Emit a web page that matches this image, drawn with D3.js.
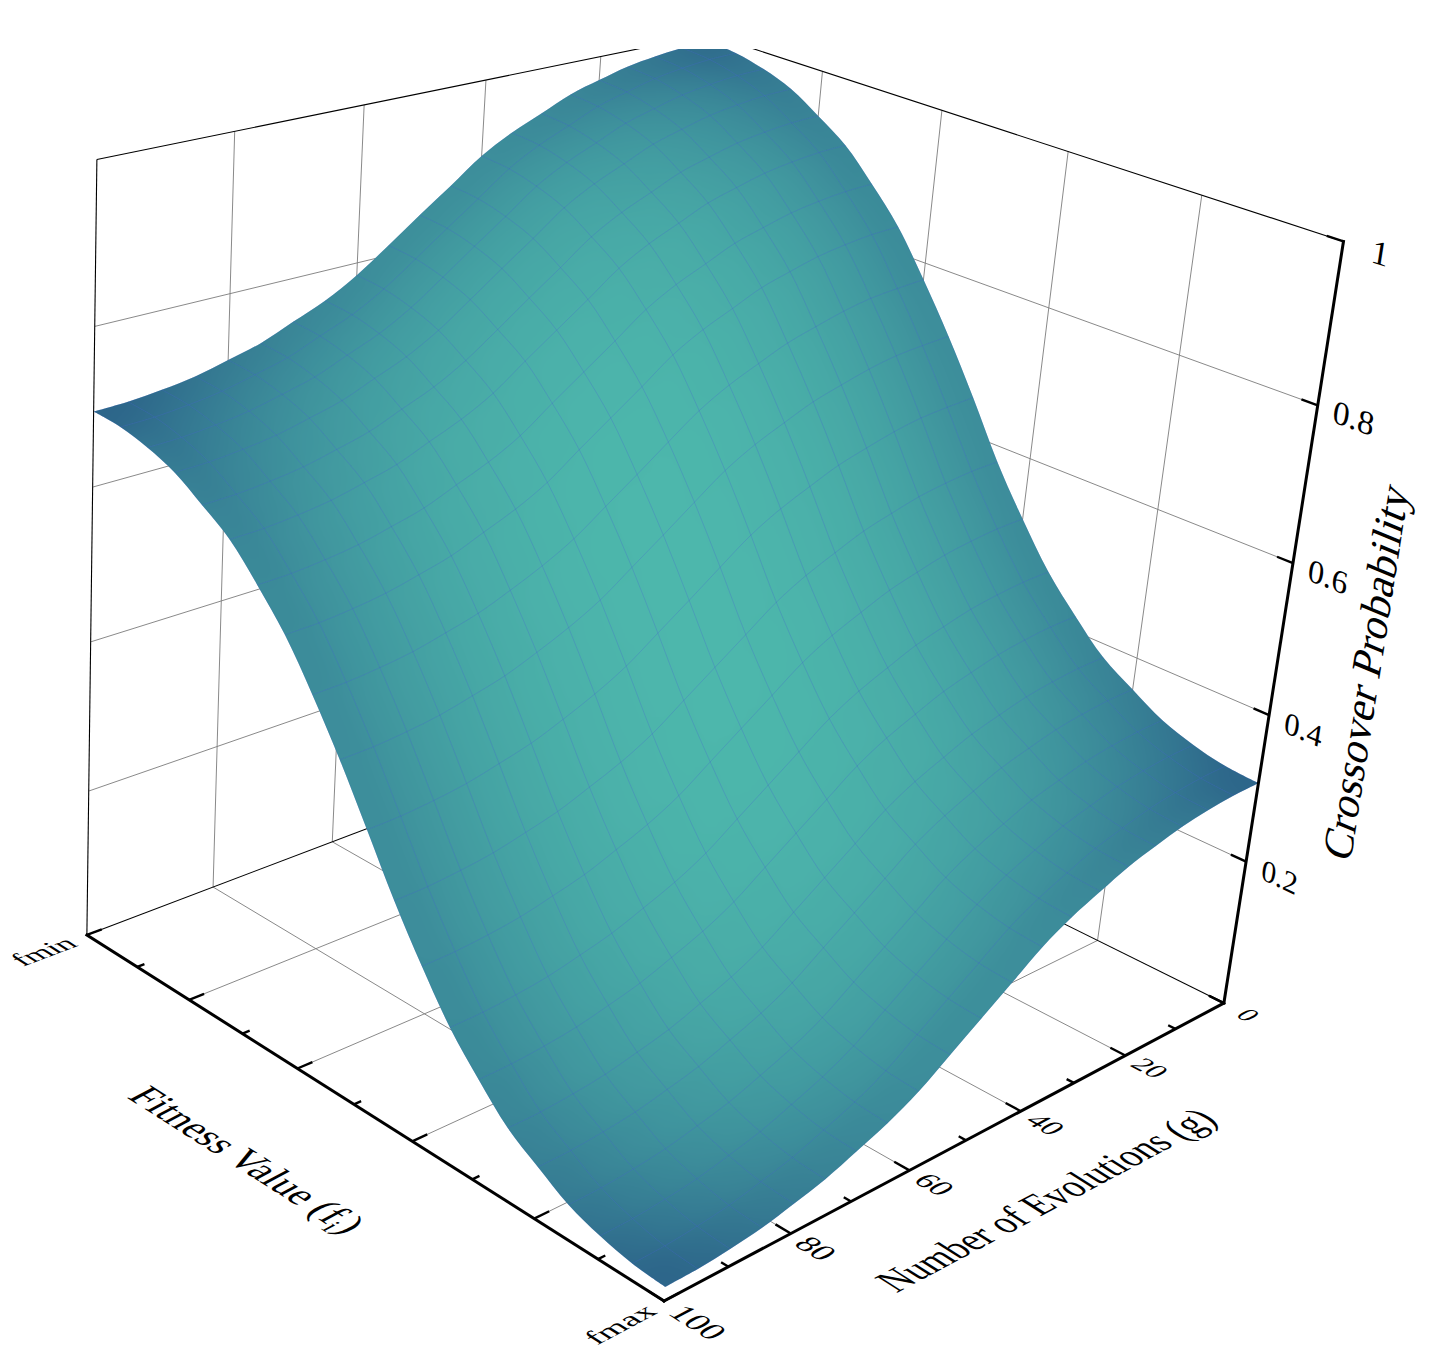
<!DOCTYPE html>
<html>
<head>
<meta charset="utf-8">
<title>Crossover Probability</title>
<script src="https://cdn.jsdelivr.net/npm/d3@7/dist/d3.min.js"></script>
<style>
  body { margin: 0; background: #fff; }
  svg { display: block; }
  text { font-family: "Liberation Serif", serif; fill: #000; }
</style>
</head>
<body>
<svg id="chart" width="1433" height="1371"></svg>
<script>
'use strict';

// grid of the surface, 21 x 21
const evolutions = d3.range(0, 101, 5);
const fitness = d3.range(0, 1.001, 0.05);

// tick values
const gMajor = [0, 20, 40, 60, 80, 100];
const gMinor = [10, 30, 50, 70, 90];
const fMajor = [0, 0.2, 0.4, 0.6, 0.8, 1];
const fMinor = [0.1, 0.3, 0.5, 0.7, 0.9];
const zMajor = [0, 0.2, 0.4, 0.6, 0.8, 1];
const zLabels = [0.2, 0.4, 0.6, 0.8, 1];
const fLabels = [[0, 'fmin'], [1, 'fmax']];

// crossover probability, one row per fitness value (fmin first), columns g = 0..100
const crossover = [
  [.990,.989,.985,.979,.969,.958,.941,.924,.902,.872,.843,.813,.784,.761,.744,.727,.716,.706,.700,.696,.695],
  [.987,.986,.982,.976,.966,.955,.938,.921,.899,.869,.840,.810,.781,.758,.741,.724,.713,.703,.697,.693,.692],
  [.978,.977,.973,.967,.957,.946,.929,.912,.890,.860,.831,.801,.772,.749,.732,.715,.704,.694,.688,.684,.683],
  [.964,.963,.959,.953,.943,.932,.915,.898,.876,.846,.817,.787,.758,.735,.718,.701,.690,.680,.674,.670,.669],
  [.941,.940,.936,.930,.920,.909,.892,.875,.853,.823,.794,.764,.735,.712,.695,.678,.667,.657,.651,.647,.646],
  [.915,.914,.910,.904,.894,.883,.866,.849,.827,.797,.768,.739,.709,.687,.670,.653,.642,.632,.626,.622,.621],
  [.877,.876,.872,.866,.856,.845,.828,.811,.789,.759,.730,.701,.671,.649,.632,.615,.604,.594,.588,.584,.583],
  [.834,.833,.829,.823,.813,.802,.785,.768,.746,.716,.687,.658,.628,.606,.589,.572,.561,.551,.545,.541,.540],
  [.778,.776,.773,.766,.756,.745,.729,.712,.690,.661,.631,.602,.573,.551,.533,.517,.506,.496,.490,.486,.485],
  [.717,.715,.712,.705,.695,.684,.668,.651,.629,.600,.570,.541,.512,.490,.472,.456,.445,.435,.429,.425,.424],
  [.650,.648,.645,.638,.628,.617,.601,.584,.562,.533,.503,.474,.445,.423,.405,.389,.378,.368,.362,.358,.357],
  [.579,.578,.574,.568,.558,.547,.531,.514,.492,.463,.434,.405,.376,.354,.337,.321,.310,.300,.294,.290,.289],
  [.518,.517,.513,.507,.497,.486,.470,.453,.431,.402,.373,.344,.315,.293,.276,.260,.249,.239,.233,.229,.228],
  [.463,.462,.458,.452,.442,.431,.415,.398,.376,.347,.318,.289,.260,.238,.221,.205,.194,.184,.178,.174,.173],
  [.420,.419,.415,.409,.399,.388,.372,.355,.333,.304,.275,.246,.217,.195,.178,.162,.151,.141,.135,.131,.130],
  [.382,.381,.377,.371,.361,.350,.334,.317,.295,.266,.237,.208,.179,.157,.140,.124,.113,.103,.097,.093,.092],
  [.357,.356,.352,.346,.336,.325,.309,.292,.270,.241,.212,.183,.154,.132,.115,.099,.088,.078,.072,.068,.067],
  [.334,.333,.329,.323,.313,.302,.286,.269,.247,.218,.189,.160,.131,.109,.092,.076,.065,.055,.049,.045,.044],
  [.320,.319,.315,.309,.299,.288,.272,.255,.233,.204,.175,.146,.117,.095,.078,.062,.051,.041,.035,.031,.030],
  [.311,.310,.306,.300,.290,.279,.263,.246,.224,.195,.166,.137,.108,.086,.069,.053,.042,.032,.026,.022,.021],
  [.308,.307,.303,.297,.287,.276,.260,.243,.221,.192,.163,.134,.105,.083,.066,.050,.039,.029,.023,.019,.018]
];

// data to unit cube: a runs along the evolutions axis, b along the fitness axis
const xScale = d3.scaleLinear().domain([0, 100]).range([1, 0]);
const yScale = d3.scaleLinear().domain([0, 1]).range([1, 0]);
const zScale = d3.scaleLinear().domain([0, 1]).range([0, 1]);

// perspective camera: front corner, vanishing points and their weights
const origin = [664, 1301],
      vanishA = [4500, -740], weightA = 0.1709,
      vanishB = [-3500, -1340], weightB = 0.1609,
      vanishC = [-16, 8900], weightC = -0.103;

function project(a, b, c) {
  const w = 1 + weightA * a + weightB * b + weightC * c;
  return [0, 1].map(k => (origin[k] + weightA * a * vanishA[k] + weightB * b * vanishB[k] + weightC * c * vanishC[k]) / w);
}

const point = (g, f, z) => project(xScale(g), yScale(f), zScale(z));
const line = d3.line();
const smooth = d3.line().curve(d3.curveCatmullRom);

function direction(p, q) {
  const dx = q[0] - p[0], dy = q[1] - p[1], len = Math.hypot(dx, dy);
  return [dx / len, dy / len];
}

const svg = d3.select('#chart');
const defs = svg.append('defs');

defs.append('clipPath').attr('id', 'view')
  .append('rect').attr('x', 0).attr('y', 49).attr('width', 1433).attr('height', 1322);

const scene = svg.append('g').attr('clip-path', 'url(#view)');

// segments on the box, given in cube coordinates
function segments(parent, data, stroke, width) {
  parent.append('g').selectAll('path').data(data).join('path')
    .attr('d', d => line([project(...d[0]), project(...d[1])]))
    .attr('fill', 'none')
    .attr('stroke', stroke)
    .attr('stroke-width', width);
}

const gGrid = [20, 40, 60, 80], fGrid = [0.2, 0.4, 0.6, 0.8], zGrid = [0.2, 0.4, 0.6, 0.8];

const gridLines = [];
gGrid.forEach(g => {
  const a = xScale(g);
  gridLines.push([[a, 0, 0], [a, 1, 0]], [[a, 1, 0], [a, 1, 1]]);
});
fGrid.forEach(f => {
  const b = yScale(f);
  gridLines.push([[0, b, 0], [1, b, 0]], [[1, b, 0], [1, b, 1]]);
});
zGrid.forEach(z => {
  gridLines.push([[0, 1, z], [1, 1, z]], [[1, 0, z], [1, 1, z]]);
});
segments(scene, gridLines, '#7c7c7c', 0.9);

const frameLines = [
  [[0, 1, 0], [1, 1, 0]], [[1, 0, 0], [1, 1, 0]],
  [[0, 1, 1], [1, 1, 1]], [[1, 0, 1], [1, 1, 1]],
  [[0, 1, 0], [0, 1, 1]], [[1, 1, 0], [1, 1, 1]]
];
segments(scene, frameLines, '#000', 1.1);

// surface: shade runs from the dark corners to the bright middle
const shade = d3.scaleLinear().domain([0.06, 1]).range(['#2b6188', '#4db7ac']).clamp(true);
const shadeAt = (i, j) => {
  const last = fitness.length - 1;
  const u = Math.abs(2 * (i + 0.5) / last - 1),
        v = Math.abs(2 * (j + 0.5) / last - 1);
  return shade(1 - (Math.pow(u, 2.6) + v * v) / 2);
};

const cells = [];
d3.range(fitness.length - 1).forEach(i => {
  d3.range(evolutions.length - 1).forEach(j => {
    cells.push({
      color: shadeAt(i, j),
      corners: [[i, j], [i, j + 1], [i + 1, j + 1], [i + 1, j]]
        .map(([r, c]) => point(evolutions[c], fitness[r], crossover[r][c]))
    });
  });
});

const meshRows = fitness.map((f, r) => evolutions.map((g, c) => point(g, f, crossover[r][c])));
const meshCols = evolutions.map((g, c) => fitness.map((f, r) => point(g, f, crossover[r][c])));

// the outline follows the four rims of the surface with sharp corners
const last = fitness.length - 1;
const rims = [meshRows[0], meshCols[last], meshRows[last].slice().reverse(), meshCols[0].slice().reverse()];
const outline = rims.map((rim, k) => smooth(rim).replace(/^M/, k ? 'L' : 'M')).join('') + 'Z';

defs.append('clipPath').attr('id', 'outline').append('path').attr('d', outline);

// soften the facets so the colour runs smoothly over the cells
defs.append('filter').attr('id', 'soft')
  .attr('filterUnits', 'userSpaceOnUse')
  .attr('x', 0).attr('y', 0).attr('width', 1433).attr('height', 1371)
  .attr('color-interpolation-filters', 'sRGB')
  .append('feGaussianBlur').attr('stdDeviation', 13);

const surface = scene.append('g').attr('clip-path', 'url(#outline)');
const colours = surface.append('g').attr('filter', 'url(#soft)');

// wide rim strokes keep the blur from fading into the white at the edges
const rimParts = [];
d3.range(last).forEach(n => {
  rimParts.push({ color: shadeAt(0, n), pts: [meshRows[0][n], meshRows[0][n + 1]] });
  rimParts.push({ color: shadeAt(last - 1, n), pts: [meshRows[last][n], meshRows[last][n + 1]] });
  rimParts.push({ color: shadeAt(n, 0), pts: [meshCols[0][n], meshCols[0][n + 1]] });
  rimParts.push({ color: shadeAt(n, last - 1), pts: [meshCols[last][n], meshCols[last][n + 1]] });
});
colours.append('g').selectAll('path').data(rimParts).join('path')
  .attr('d', d => line(d.pts))
  .attr('fill', 'none')
  .attr('stroke', d => d.color)
  .attr('stroke-width', 70)
  .attr('stroke-linecap', 'round');

colours.append('g').selectAll('path').data(cells).join('path')
  .attr('d', d => line(d.corners) + 'Z')
  .attr('fill', d => d.color)
  .attr('stroke', d => d.color)
  .attr('stroke-width', 1)
  .attr('stroke-linejoin', 'round');

// mesh lines on top of the cells
surface.append('g').selectAll('path').data(meshRows.concat(meshCols)).join('path')
  .attr('d', smooth)
  .attr('fill', 'none')
  .attr('stroke', '#4466cc')
  .attr('stroke-opacity', 0.38)
  .attr('stroke-width', 0.8);

// axes
const axisLines = [
  [[0, 1, 0], [0, 0, 0]],
  [[0, 0, 0], [1, 0, 0]],
  [[1, 0, 0], [1, 0, 1]]
];
const axes = svg.append('g');
axes.append('g').selectAll('path').data(axisLines).join('path')
  .attr('d', d => line([project(...d[0]), project(...d[1])]))
  .attr('fill', 'none')
  .attr('stroke', '#000')
  .attr('stroke-width', 3)
  .attr('stroke-linecap', 'square');

const majorLen = 0.023, minorLen = 0.011;
const tickLines = [];
gMajor.forEach(g => tickLines.push([[xScale(g), 0, 0], [xScale(g), majorLen, 0]]));
gMinor.forEach(g => tickLines.push([[xScale(g), 0, 0], [xScale(g), minorLen, 0]]));
fMajor.forEach(f => tickLines.push([[0, yScale(f), 0], [majorLen, yScale(f), 0]]));
fMinor.forEach(f => tickLines.push([[0, yScale(f), 0], [minorLen, yScale(f), 0]]));
zMajor.forEach(z => tickLines.push([[1, 0, z], [1, majorLen, z]]));
segments(axes, tickLines, '#000', 2.4);

// labels lie in the plane of their wall: base is the baseline, up the glyph stems
function planeText(parent, at, base, up, size, stretch) {
  return parent.append('text')
    .attr('transform', `matrix(${base[0] * stretch},${base[1] * stretch},${-up[0]},${-up[1]},${at[0]},${at[1]})`)
    .attr('font-size', size)
    .attr('text-anchor', 'middle')
    .attr('dy', '0.33em');
}

const labels = svg.append('g');

const gSize = d3.scaleLinear().domain([0, 100]).range([26, 32]);
gMajor.forEach(g => {
  const a = xScale(g);
  planeText(labels, project(a, g === 100 ? -0.05 : -0.037, 0),
    direction(project(a, 1, 0), project(a, 0, 0)),
    direction(project(0, 0, 0), project(1, 0, 0)),
    gSize(g), 1.08).text(g);
});

fLabels.forEach(([f, label]) => {
  const b = yScale(f);
  planeText(labels, project(-0.066, b, 0),
    direction(project(0, b, 0), project(1, b, 0)),
    direction(project(0, 0, 0), project(0, 1, 0)),
    27, f === 1 ? 1.26 : 1.18).text(label);
});

const zSize = d3.scaleLinear().domain([0, 1]).range([29, 34]);
zLabels.forEach(z => {
  planeText(labels, project(1, -0.05, z),
    direction(project(1, 1, z), project(1, 0, z)),
    direction(project(1, 0, 0), project(1, 0, 1)),
    zSize(z), 1.05).text(z);
});

// axis titles
planeText(labels, [1046, 1200],
  direction(project(0, 0, 0), project(1, 0, 0)),
  direction(project(0, 0, 0), project(0, 1, 0)),
  42, 0.84).text('Number of Evolutions (g)');

const fTitle = planeText(labels, [247, 1160],
  direction(project(0, 1, 0), project(0, 0, 0)),
  direction(project(0, 0, 0), project(1, 0, 0)),
  41, 0.93);
fTitle.append('tspan').text('Fitness Value (f');
fTitle.append('tspan').attr('dy', '0.3em').attr('font-size', '0.65em').text('i');
fTitle.append('tspan').attr('dy', '-0.2em').text(')');

planeText(labels, [1366, 672],
  direction(project(1, 0, 0), project(1, 0, 1)),
  direction(project(1, 0, 0.5), project(1, 1, 0.5)),
  44, 0.98).text('Crossover Probability');
</script>
</body>
</html>
